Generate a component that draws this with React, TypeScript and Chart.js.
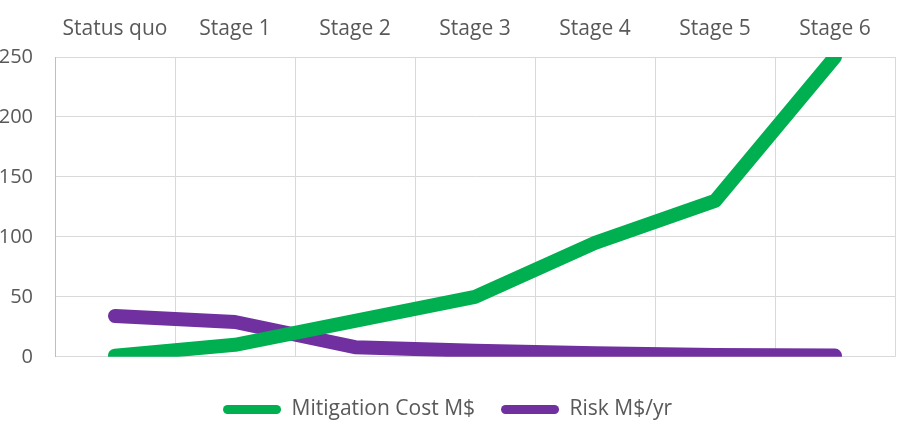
import React, { useEffect, useRef } from "react";
import { Chart, registerables } from "chart.js";

Chart.register(...registerables);

const categories = ["Status quo", "Stage 1", "Stage 2", "Stage 3", "Stage 4", "Stage 5", "Stage 6"];
const mitigationCost = [1, 10, 30, 50, 95, 130, 250];
const riskPerYear = [34, 29, 8, 5, 3, 1.5, 1];
const yTicks = [0, 50, 100, 150, 200, 250];
const seriesNames = ["Mitigation Cost M$", "Risk M$/yr"];
const seriesColors = ["#00B050", "#7030A0"];

export default function App() {
  const ref = useRef<HTMLCanvasElement | null>(null);
  useEffect(() => {
    if (!ref.current) return;
    const family = "'Open Sans', sans-serif";
    const chart = new Chart(ref.current, {
      type: "line",
      data: {
        labels: categories,
        datasets: seriesNames.map((name, i) => ({
          label: name,
          data: i === 0 ? mitigationCost : riskPerYear,
          borderColor: seriesColors[i],
          backgroundColor: seriesColors[i],
          borderWidth: 14,
          borderCapStyle: "round",
          borderJoinStyle: "round",
          pointRadius: 0,
          tension: 0,
          clip: 0,
        })),
      },
      options: {
        animation: false,
        responsive: false,
        maintainAspectRatio: false,
        layout: { padding: { left: 0, right: 12, top: 0, bottom: 1 } },
        scales: {
          x: {
            type: "category",
            position: "top",
            offset: true,
            grid: { offset: true, color: "#D9D9D9", lineWidth: 1, drawTicks: false },
            border: { color: "#D9D9D9" },
            ticks: { color: "#595959", font: { family, size: 21 }, padding: 15, maxRotation: 0, autoSkip: false },
            afterFit: (s: any) => {
              s.height = 57;
            },
          },
          y: {
            min: yTicks[0],
            max: yTicks[yTicks.length - 1],
            afterBuildTicks: (s: any) => {
              s.ticks = yTicks.map((v) => ({ value: v }));
            },
            ticks: { color: "#595959", font: { family, size: 20 }, padding: 22 },
            grid: { color: "#D9D9D9", lineWidth: 1, drawTicks: false },
            border: { color: "#BFBFBF" },
            afterFit: (s: any) => {
              s.width = 55;
            },
          },
        },
        plugins: {
          tooltip: { enabled: false },
          legend: {
            position: "bottom",
            title: { display: true, text: " ", font: { size: 1 }, padding: { top: 15, bottom: 0 } },
            labels: {
              color: "#595959",
              font: { family, size: 21 },
              boxWidth: 58,
              boxHeight: 9,
              padding: 26,
              useBorderRadius: true,
              borderRadius: 4.5,
              generateLabels: (c: any) =>
                c.data.datasets.map((d: any, i: number) => ({
                  text: d.label,
                  fillStyle: d.borderColor,
                  strokeStyle: d.borderColor,
                  lineWidth: 0,
                  fontColor: "#595959",
                  hidden: false,
                  datasetIndex: i,
                  borderRadius: 4.5,
                })),
            },
          },
        },
      },
    });
    return () => chart.destroy();
  }, []);
  return (
    <div style={{ position: "absolute", left: 0, top: 0, width: 907, height: 431, background: "#fff" }}>
      <canvas ref={ref} width={907} height={431} style={{ width: 907, height: 431 }} />
    </div>
  );
}
